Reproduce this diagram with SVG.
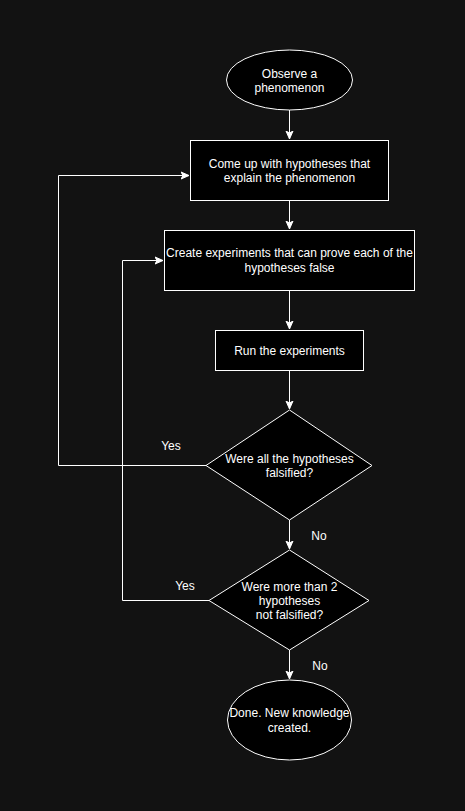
<svg xmlns="http://www.w3.org/2000/svg" width="465" height="811" viewBox="0 0 465 811">
<style>
.s{fill:#000;stroke:#fff;stroke-width:1}
.c{fill:none;stroke:#fff;stroke-width:1}
text{font-family:"Liberation Sans",Arial,sans-serif;font-size:12px;fill:#fff;text-anchor:middle}
</style>
<defs>
<marker id="a" markerUnits="userSpaceOnUse" markerWidth="10" markerHeight="10" refX="8" refY="4" orient="auto" viewBox="0 0 10 8">
<path d="M0,0.5 L8,4 L0,7.5 L2,4 Z" fill="#fff" stroke="#fff" stroke-width="1"/>
</marker>
</defs>
<rect width="465" height="811" fill="#121212"/>
<g id="connectors">
<path class="c" d="M289.5,110 V139" marker-end="url(#a)"/>
<path class="c" d="M289.5,200 V229" marker-end="url(#a)"/>
<path class="c" d="M289.5,290 V329" marker-end="url(#a)"/>
<path class="c" d="M289.5,370 V409" marker-end="url(#a)"/>
<path class="c" d="M289.5,520 V549" marker-end="url(#a)"/>
<path class="c" d="M289.5,650 V679" marker-end="url(#a)"/>
<path class="c" d="M206,465.5 H58.5 V175.5 H189" marker-end="url(#a)"/>
<path class="c" d="M209,600.5 H122.5 V260.5 H163" marker-end="url(#a)"/>
<text x="171" y="450">Yes</text>
<text x="319" y="540">No</text>
<text x="185" y="590">Yes</text>
<text x="320" y="670">No</text>
</g>
<g id="start">
<ellipse class="s" cx="289.5" cy="80" rx="63" ry="30"/>
<text x="289.5" y="78">Observe a</text>
<text x="289.5" y="92">phenomenon</text>
</g>
<g id="hypotheses">
<rect class="s" x="190.5" y="140.5" width="198" height="60"/>
<text x="289.5" y="168">Come up with hypotheses that</text>
<text x="289.5" y="182">explain the phenomenon</text>
</g>
<g id="create">
<rect class="s" x="164.5" y="230.5" width="250" height="60"/>
<text x="289.5" y="257">Create experiments that can prove each of the</text>
<text x="289.5" y="272">hypotheses false</text>
</g>
<g id="run">
<rect class="s" x="215.5" y="330.5" width="148" height="40"/>
<text x="289.5" y="355">Run the experiments</text>
</g>
<g id="decision1">
<polygon class="s" points="289.5,410 372,465.5 289.5,520 206,465.5"/>
<text x="289.5" y="463">Were all the hypotheses</text>
<text x="289.5" y="477">falsified?</text>
</g>
<g id="decision2">
<polygon class="s" points="289.5,550 369,600.5 289.5,650 209,600.5"/>
<text x="289.5" y="591">Were more than 2</text>
<text x="289.5" y="605">hypotheses</text>
<text x="289.5" y="619">not falsified?</text>
</g>
<g id="end">
<ellipse class="s" cx="289.5" cy="720" rx="62" ry="40"/>
<text x="289.5" y="717">Done. New knowledge</text>
<text x="289.5" y="732">created.</text>
</g>
</svg>
